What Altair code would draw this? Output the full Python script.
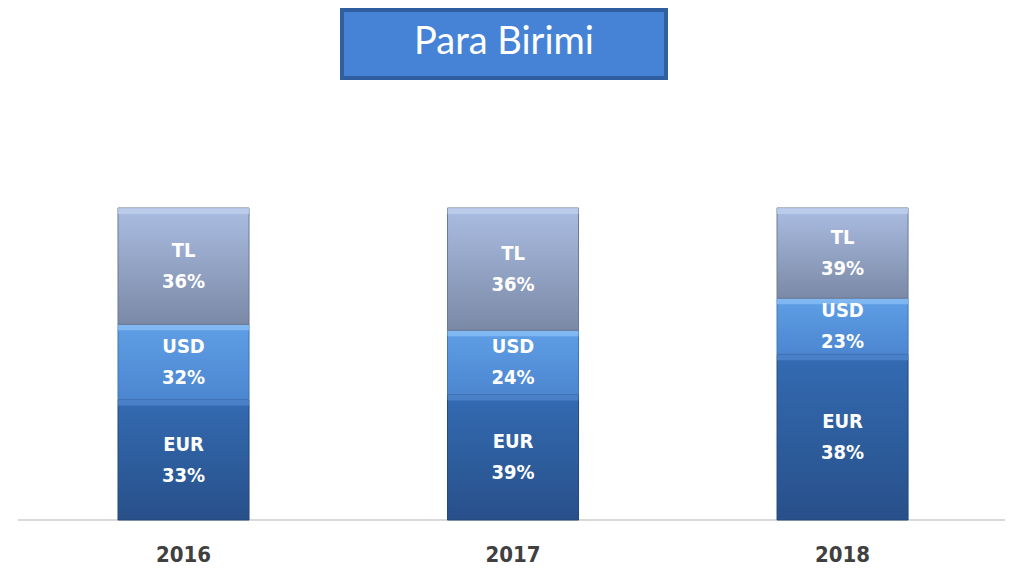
import altair as alt
import pandas as pd

# ---- data ----
years = ["2016", "2017", "2018"]
currencies = ["EUR", "USD", "TL"]          # bottom -> top
eur_share = [38.6, 40.2, 53.1]             # segment sizes as drawn
usd_share = [24.1, 20.6, 18.0]
tl_share = [37.3, 39.2, 28.9]
eur_label = ["33%", "39%", "38%"]          # printed labels
usd_label = ["32%", "24%", "23%"]
tl_label = ["36%", "36%", "39%"]
chart_title = "Para Birimi"

rows = []
for i, y in enumerate(years):
    for order, (cur, sh, lb) in enumerate(zip(
            currencies,
            [eur_share[i], usd_share[i], tl_share[i]],
            [eur_label[i], usd_label[i], tl_label[i]])):
        rows.append({"year": y, "currency": cur, "share": sh, "label": lb, "order": order})
df = pd.DataFrame(rows)

FONT_LBL = "Liberation Sans Narrow, DejaVu Sans Condensed, Roboto, sans-serif"

def grad(top, bottom):
    return alt.Gradient(
        gradient="linear",
        stops=[alt.GradientStop(color=top, offset=0), alt.GradientStop(color=bottom, offset=1)],
        x1=0, x2=0, y1=0, y2=1,
    )

fills = {
    "TL": grad("#aabde2", "#7b89a6"),
    "USD": grad("#5f9fe6", "#4c86d0"),
    "EUR": grad("#336bb2", "#28508a"),
}
strokes = {"TL": "#6a7892", "USD": "#3f74b6", "EUR": "#234878"}
highlights = {"TL": "#c2d2ef", "USD": "#8cc0f5", "EUR": "#5288cf"}

X = alt.X(
    "year:N",
    sort=years,
    scale=alt.Scale(domain=years, paddingInner=0.6024, paddingOuter=0.311, align=0.527),
    axis=alt.Axis(
        title=None, labelAngle=0, domain=False, ticks=False, tickSize=0,
        labelFont=FONT_LBL, labelFontSize=22, labelFontWeight="bold",
        labelColor="#404040", labelBaseline="middle", labelPadding=34, grid=False,
    ),
)
YSCALE = alt.Scale(domain=[0, 164.1], nice=False, zero=True)

base = alt.Chart(df).transform_stack(
    stack="share", groupby=["year"], as_=["y0", "y1"],
    sort=[alt.SortField("order", "ascending")],
).transform_calculate(mid="(datum.y0 + datum.y1) / 2")

layers = []
for cur in currencies:
    sub = base.transform_filter(alt.datum.currency == cur)
    layers.append(
        sub.mark_bar(fill=fills[cur], stroke=strokes[cur], strokeWidth=1).encode(
            x=X, y=alt.Y("y1:Q", scale=YSCALE, axis=None), y2="y0:Q"
        )
    )
    layers.append(
        sub.mark_bar(fill=highlights[cur], opacity=0.75, y2Offset=6).encode(
            x=X, y=alt.Y("y1:Q", scale=YSCALE, axis=None), y2="y1:Q"
        )
    )

name_text = base.mark_text(
    font=FONT_LBL, fontSize=20, fontWeight="bold", color="white",
    baseline="middle", align="center", dy=-15,
).encode(x=X, y=alt.Y("mid:Q", scale=YSCALE, axis=None), text="currency:N")

pct_text = base.mark_text(
    font=FONT_LBL, fontSize=20, fontWeight="bold", color="white",
    baseline="middle", align="center", dy=16,
).encode(x=X, y=alt.Y("mid:Q", scale=YSCALE, axis=None), text="label:N")

one = pd.DataFrame({"t": [chart_title]})
baseline_rule = alt.Chart(one).mark_rule(color="#d9d9d9", strokeWidth=2).encode(
    x=alt.value(8), x2=alt.value(995), y=alt.value(512)
)
title_box = alt.Chart(one).mark_rect(fill="#4683d6", stroke="#2f5f9f", strokeWidth=4).encode(
    x=alt.value(332), x2=alt.value(656), y=alt.value(2), y2=alt.value(70)
)
title_text = alt.Chart(one).mark_text(
    font="Lato, Open Sans, sans-serif", fontSize=38, color="white",
    align="center", baseline="middle",
).encode(x=alt.value(494), y=alt.value(35), text="t:N")

chart = alt.layer(
    baseline_rule, *layers, name_text, pct_text, title_box, title_text
).properties(
    width=995, height=512,
    background="white",
    autosize=alt.AutoSizeParams(type="none"),
    padding={"left": 2, "top": 0, "right": 0, "bottom": 50},
).configure_view(strokeWidth=0, stroke="transparent")

chart.save("out.html", embed_options={"renderer": "svg", "actions": False})
